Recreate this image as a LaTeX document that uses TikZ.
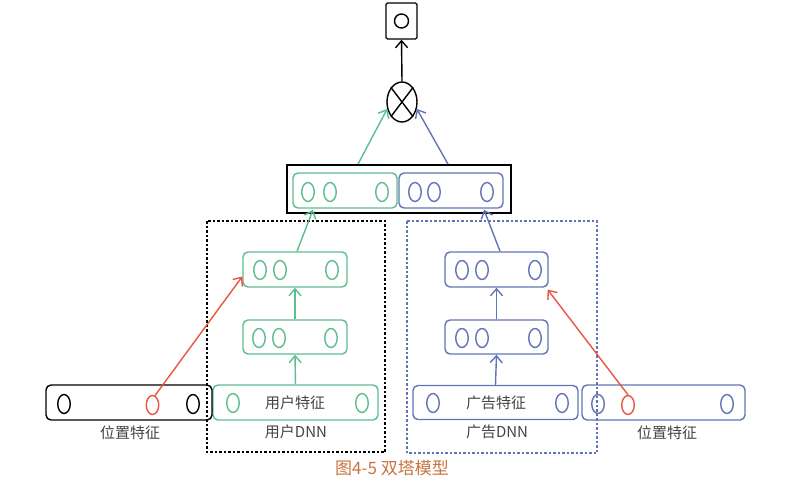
\documentclass[tikz,border=0pt]{standalone}
\usepackage{fontspec}
\setmainfont{Noto Sans CJK SC}
\usetikzlibrary{arrows.meta,shapes.geometric}

\definecolor{towergreen}{HTML}{5CBD90}
\definecolor{towerblue}{HTML}{6074B6}
\definecolor{posred}{HTML}{E8563E}
\definecolor{labelgray}{HTML}{444444}
\definecolor{captionbrown}{HTML}{C6743E}

\tikzset{
  layer/.style={draw, rounded corners=5pt, inner sep=0pt},
  unit/.style={draw, ellipse, inner sep=0pt, minimum width=12.5pt, minimum height=19pt},
  flow/.style={-{Straight Barb[length=7pt,width=12pt]}},
  lbl/.style={text=labelgray, font=\fontsize{15}{15}\selectfont, inner sep=0pt},
  groupbox/.style={line width=1.5pt, dash pattern=on 2.5pt off 2pt},
}

\begin{document}
\begin{tikzpicture}[x=1pt, y=-1pt, line width=1.4pt]
\useasboundingbox (0,0) rectangle (795,483);

% output unit and the inner-product node
\node[draw, inner sep=0pt, minimum width=31pt, minimum height=36pt, rounded corners=1.5pt] (out) at (401.5,21) {};
\node[unit, minimum width=14pt, minimum height=14pt] (outc) at (401.5,21) {};
\node[draw, ellipse, inner sep=0pt, minimum width=30pt, minimum height=40pt] (dot) at (402,102) {};
\draw (dot.north east) -- (dot.south west) (dot.north west) -- (dot.south east);
\draw[flow] (dot.north) -- (out.south);

% concatenated tower outputs
\node[draw, inner sep=0pt, minimum width=224pt, minimum height=48pt, line width=1.8pt] (big) at (399,189) {};
\node[layer, draw=towergreen, minimum width=104pt, minimum height=35pt] (gin) at (345,190.5) {};
\node[layer, draw=towerblue, minimum width=104pt, minimum height=35pt] (bin) at (451,190.5) {};
\foreach \x [count=\i] in {308,330,382} \node[unit, draw=towergreen] (gc\i) at (\x,192) {};
\foreach \x [count=\i] in {415,434,487} \node[unit, draw=towerblue] (bc\i) at (\x,192) {};
\draw[flow, towergreen] ([xshift=-41pt]big.north) -- (dot.205);
\draw[flow, towerblue] ([xshift=49pt]big.north) -- (dot.-25);

% user tower
\draw[groupbox] (207,221) rectangle (385,452);
\node[layer, draw=towergreen, minimum width=104pt, minimum height=35pt] (u3) at (295,269.5) {};
\node[layer, draw=towergreen, minimum width=104pt, minimum height=34pt] (u2) at (295,337) {};
\node[layer, draw=towergreen, minimum width=165pt, minimum height=35pt] (u1) at (295.5,402.5) {};
\foreach \x [count=\i] in {260,280,332} \node[unit, draw=towergreen] (u3c\i) at (\x,270) {};
\foreach \x [count=\i] in {259,279,331} \node[unit, draw=towergreen] (u2c\i) at (\x,338) {};
\foreach \x [count=\i] in {233,362} \node[unit, draw=towergreen] (u1c\i) at (\x,403) {};
\node[lbl] (ufeat) at (295,403) {用户特征};
\node[lbl] (udnn) at (296,432) {用户DNN};
\draw[flow, towergreen] (u1.north) -- (u2.south);
\draw[flow, towergreen] (u2.north) -- (u3.south);
\draw[flow, towergreen] ([xshift=2pt]u3.north) -- ([xshift=-32pt,yshift=-1pt]gin.south);

% ad tower
\draw[groupbox, draw=towerblue] (407,221) rectangle (597,453);
\node[layer, draw=towerblue, minimum width=103pt, minimum height=35pt] (a3) at (496.5,269.5) {};
\node[layer, draw=towerblue, minimum width=103pt, minimum height=34pt] (a2) at (496.5,337) {};
\node[layer, draw=towerblue, minimum width=165pt, minimum height=34pt] (a1) at (495.5,402.5) {};
\foreach \x [count=\i] in {462,482,535} \node[unit, draw=towerblue] (a3c\i) at (\x,270) {};
\foreach \x [count=\i] in {462,482,535} \node[unit, draw=towerblue] (a2c\i) at (\x,338) {};
\foreach \x [count=\i] in {433,562} \node[unit, draw=towerblue] (a1c\i) at (\x,403) {};
\node[lbl] (afeat) at (496,403) {广告特征};
\node[lbl] (adnn) at (497,432) {广告DNN};
\draw[flow, towerblue] (a1.north) -- (a2.south);
\draw[flow, towerblue] (a2.north) -- (a3.south);
\draw[flow, towerblue] ([xshift=3.5pt]a3.north) -- ([xshift=33pt,yshift=-1pt]bin.south);

% position features
\node[layer, minimum width=166pt, minimum height=35pt] (pl) at (129,402.5) {};
\node[unit] (plc1) at (64,404) {};
\node[unit, draw=posred] (plr) at (152.5,405) {};
\node[unit] (plc2) at (193,404) {};
\node[lbl] (plabel) at (130,433) {位置特征};

\node[layer, draw=towerblue, minimum width=163pt, minimum height=35pt] (pr) at (663.5,402.5) {};
\node[unit, draw=towerblue] (prc1) at (598,404) {};
\node[unit, draw=posred] (prr) at (628,405) {};
\node[unit, draw=towerblue] (prc2) at (727,404) {};
\node[lbl] (prlabel) at (667,433) {位置特征};

\draw[flow, posred] (plr.75) -- ([yshift=-7pt]u3.west);
\draw[flow, posred] (prr.north) -- ([xshift=-1pt,yshift=-2pt]a3.south east);

% caption
\node[text=captionbrown, font=\fontsize{17}{17}\selectfont, inner sep=0pt] (cap) at (392,468) {图4-5 双塔模型};
\end{tikzpicture}
\end{document}
